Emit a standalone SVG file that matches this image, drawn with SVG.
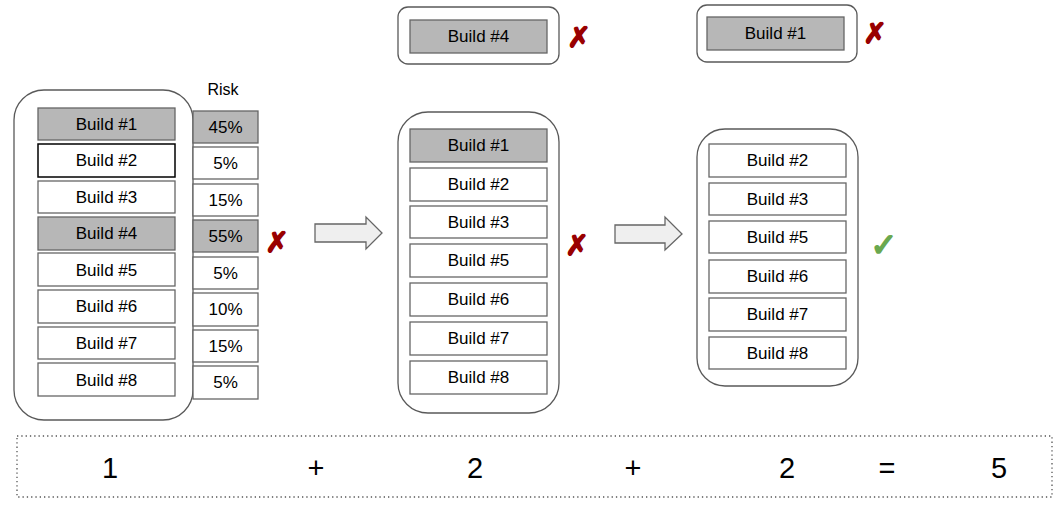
<svg xmlns="http://www.w3.org/2000/svg" width="1063" height="510" viewBox="0 0 1063 510">
<style>
.cont{fill:#fff;stroke:#595959;stroke-width:1.3}
.b{fill:#fff;stroke:#666;stroke-width:1.3}
.g{fill:#b7b7b7;stroke:#666;stroke-width:1.3}
.dk{fill:#fff;stroke:#000;stroke-width:1.5}
text{font-family:"Liberation Sans",Arial,sans-serif;font-size:17px;fill:#000;text-anchor:middle}
.x{font-family:"DejaVu Sans",sans-serif;font-size:28px;fill:#990000;stroke:#990000;stroke-width:1.6}
.ok{font-family:"DejaVu Sans",sans-serif;font-size:32px;fill:#6aa84f;stroke:#6aa84f;stroke-width:1.8}
.n{font-size:29px}
.arr{fill:#efefef;stroke:#666;stroke-width:1.3}
</style>
<rect width="1063" height="510" fill="#fff"/>

<g id="col1">
<rect class="cont" x="14" y="90" width="179" height="330" rx="30"/>
<rect class="g" x="38" y="108" width="137" height="32"/><text x="106.5" y="130">Build #1</text>
<rect class="dk" x="38" y="144" width="137" height="33"/><text x="106.5" y="166">Build #2</text>
<rect class="b" x="38" y="181" width="137" height="32"/><text x="106.5" y="203">Build #3</text>
<rect class="g" x="38" y="217" width="137" height="33"/><text x="106.5" y="239">Build #4</text>
<rect class="b" x="38" y="253" width="137" height="33"/><text x="106.5" y="276">Build #5</text>
<rect class="b" x="38" y="290" width="137" height="33"/><text x="106.5" y="312">Build #6</text>
<rect class="b" x="38" y="327" width="137" height="32"/><text x="106.5" y="349">Build #7</text>
<rect class="b" x="38" y="363" width="137" height="33"/><text x="106.5" y="386">Build #8</text>
</g>

<g id="risk">
<text x="223" y="95" style="font-size:16px">Risk</text>
<rect class="g" x="193" y="111" width="65" height="32"/><text x="225.5" y="133">45%</text>
<rect class="b" x="193" y="147" width="65" height="32"/><text x="225.5" y="169">5%</text>
<rect class="b" x="193" y="184" width="65" height="32"/><text x="225.5" y="206">15%</text>
<rect class="g" x="193" y="220" width="65" height="32"/><text x="225.5" y="242">55%</text>
<rect class="b" x="193" y="257" width="65" height="32"/><text x="225.5" y="279">5%</text>
<rect class="b" x="193" y="293" width="65" height="33"/><text x="225.5" y="315">10%</text>
<rect class="b" x="193" y="330" width="65" height="32"/><text x="225.5" y="352">15%</text>
<rect class="b" x="193" y="366" width="65" height="33"/><text x="225.5" y="388">5%</text>
<text class="x" x="277" y="252">✗</text>
</g>

<g id="connectors">
<path class="arr" d="M315,224 H366 V217 L382,233 L366,249 V242 H315 Z"/>
<path class="arr" d="M615,225 H665 V217 L682,234 L665,250 V243 H615 Z"/>
</g>

<g id="top2">
<rect class="cont" x="398" y="7" width="161" height="57" rx="10"/>
<rect class="g" x="410" y="20" width="137" height="33"/><text x="478.5" y="42">Build #4</text>
<text class="x" x="579" y="47">✗</text>
</g>

<g id="col2">
<rect class="cont" x="398" y="112" width="161" height="301" rx="30"/>
<rect class="g" x="410" y="129" width="137" height="33"/><text x="478.5" y="151">Build #1</text>
<rect class="b" x="410" y="168" width="137" height="33"/><text x="478.5" y="190">Build #2</text>
<rect class="b" x="410" y="206" width="137" height="32"/><text x="478.5" y="228">Build #3</text>
<rect class="b" x="410" y="244" width="137" height="33"/><text x="478.5" y="266">Build #5</text>
<rect class="b" x="410" y="283" width="137" height="33"/><text x="478.5" y="305">Build #6</text>
<rect class="b" x="410" y="322" width="137" height="33"/><text x="478.5" y="344">Build #7</text>
<rect class="b" x="410" y="361" width="137" height="33"/><text x="478.5" y="383">Build #8</text>
<text class="x" x="577" y="255">✗</text>
</g>

<g id="top3">
<rect class="cont" x="697" y="5" width="160" height="57" rx="10"/>
<rect class="g" x="707" y="17" width="137" height="33"/><text x="775.5" y="39">Build #1</text>
<text class="x" x="875" y="43">✗</text>
</g>

<g id="col3">
<rect class="cont" x="697" y="129" width="161" height="257" rx="28"/>
<rect class="b" x="709" y="144" width="137" height="33"/><text x="777.5" y="166">Build #2</text>
<rect class="b" x="709" y="183" width="137" height="32"/><text x="777.5" y="205">Build #3</text>
<rect class="b" x="709" y="221" width="137" height="32"/><text x="777.5" y="243">Build #5</text>
<rect class="b" x="709" y="260" width="137" height="33"/><text x="777.5" y="282">Build #6</text>
<rect class="b" x="709" y="298" width="137" height="33"/><text x="777.5" y="320">Build #7</text>
<rect class="b" x="709" y="337" width="137" height="32"/><text x="777.5" y="359">Build #8</text>
<text class="ok" x="884" y="256">✓</text>
</g>

<g id="sum">
<rect x="17" y="436" width="1035" height="61" fill="none" stroke="#555" stroke-width="1.3" stroke-dasharray="1.3,3"/>
<text class="n" x="110" y="478">1</text>
<text class="n" x="316" y="478">+</text>
<text class="n" x="475" y="478">2</text>
<text class="n" x="633" y="478">+</text>
<text class="n" x="787" y="478">2</text>
<text class="n" x="887" y="478">=</text>
<text class="n" x="999" y="478">5</text>
</g>
</svg>
